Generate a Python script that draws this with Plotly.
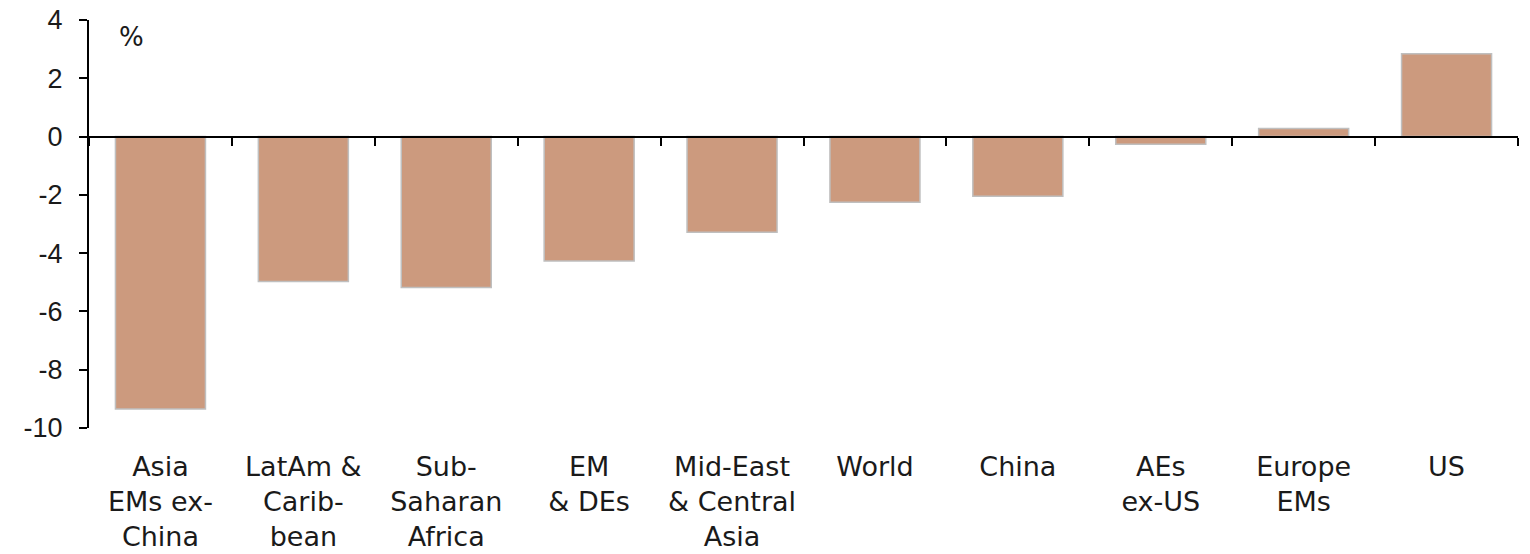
import plotly.graph_objects as go

categories = ["Asia<br>EMs ex-<br>China", "LatAm &<br>Carib-<br>bean", "Sub-<br>Saharan<br>Africa",
              "EM<br>& DEs", "Mid-East<br>& Central<br>Asia", "World", "China",
              "AEs<br>ex-US", "Europe<br>EMs", "US"]
values = [-9.35, -4.97, -5.18, -4.27, -3.28, -2.25, -2.05, -0.26, 0.28, 2.84]
y_ticks = [-10, -8, -6, -4, -2, 0, 2, 4]
y_tick_text = ["-10", "-8", "-6", "-4", "-2", "0", "2", "4"]

y_min, y_max = -10, 4

fig = go.Figure()
fig.add_trace(go.Bar(
    x=categories, y=values,
    marker=dict(color="#CC9A7E", line=dict(color="#BFBFBF", width=1.5)),
    showlegend=False, hoverinfo="skip",
))
fig.add_trace(go.Scatter(
    x=categories, y=values, xaxis="x2", mode="markers",
    marker=dict(opacity=0), showlegend=False, hoverinfo="skip",
))

fig.update_layout(
    width=1530, height=554,
    margin=dict(l=89, r=12, t=20, b=126),
    paper_bgcolor="white", plot_bgcolor="white",
    bargap=0.37,
    xaxis=dict(
        type="category", categoryarray=categories, range=[-0.5, 9.5],
        showline=False, showgrid=False, zeroline=False, ticks="",
        tickfont=dict(family="DejaVu Sans", size=27, color="#1a1a1a"),
        ticklabelstandoff=20, automargin=False,
    ),
    xaxis2=dict(
        type="category", categoryarray=categories, range=[-0.5, 9.5],
        overlaying="x", anchor="free",
        position=(0 - y_min) / (y_max - y_min),
        showline=True, linecolor="black", linewidth=2,
        ticks="outside", ticklen=8, tickwidth=2, tickcolor="black",
        tickson="boundaries", showticklabels=False, showgrid=False, zeroline=False,
        automargin=False,
    ),
    yaxis=dict(
        range=[y_min, y_max], tickvals=y_ticks, ticktext=y_tick_text,
        showline=True, linecolor="black", linewidth=2,
        ticks="outside", ticklen=8, tickwidth=2, tickcolor="black",
        showgrid=False, zeroline=False,
        tickfont=dict(family="Liberation Sans", size=27, color="#1a1a1a"),
        ticklabelstandoff=11, automargin=False, ticklabeloverflow="allow",
    ),
    annotations=[dict(
        text="%", xref="paper", yref="paper", x=0.030, y=0.958,
        xanchor="center", yanchor="middle", showarrow=False,
        font=dict(family="DejaVu Sans", size=26, color="#1a1a1a"),
    )],
)

fig.write_html("out.html", config={"displayModeBar": False},
               post_script="document.body.style.margin='0';")
